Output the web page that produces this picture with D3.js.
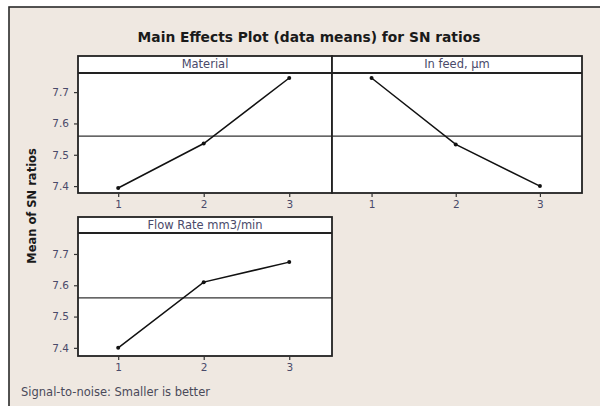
<!DOCTYPE html>
<html><head><meta charset="utf-8">
<script src="https://cdn.jsdelivr.net/npm/d3@7"></script>
<style>body{margin:0;background:#fff}svg{display:block}</style>
</head><body>
<script>
const levels = [1, 2, 3];
const factors = ["Material", "In feed, µm", "Flow Rate mm3/min"];
const materialMeans = [7.394, 7.536, 7.745];
const infeedMeans = [7.745, 7.533, 7.400];
const flowMeans = [7.400, 7.610, 7.674];
const yTicks = [7.4, 7.5, 7.6, 7.7];
const title = "Main Effects Plot (data means) for SN ratios";
const yLabel = "Mean of SN ratios";
const footer = "Signal-to-noise: Smaller is better";

const W = 600, H = 406;
const svg = d3.select("body").append("svg").attr("width", W).attr("height", H);
const font = "'DejaVu Sans', 'Liberation Sans', sans-serif";

// outer frame
svg.append("rect").attr("x", 9).attr("y", 7).attr("width", W + 20).attr("height", H + 20)
  .attr("fill", "#efe8e1").attr("stroke", "#2a2a2a").attr("stroke-width", 1.6);

svg.append("text").attr("x", 309).attr("y", 42).attr("text-anchor", "middle")
  .attr("font-family", font).attr("font-weight", "bold").attr("font-size", 13.8)
  .attr("fill", "#1a1a1a").text(title);

const allVals = [].concat(materialMeans, infeedMeans, flowMeans);
const grandMean = d3.mean(allVals);

const panels = [
  {name: factors[0], vals: materialMeans, x0: 78, x1: 332, top: 56, strip: 73, bottom: 193, leftAxis: true, dom: [7.378, 7.761]},
  {name: factors[1], vals: infeedMeans, x0: 332, x1: 582, top: 56, strip: 73, bottom: 193, leftAxis: false, dom: [7.378, 7.761]},
  {name: factors[2], vals: flowMeans, x0: 78, x1: 332, top: 217, strip: 233, bottom: 356, leftAxis: true, dom: [7.374, 7.767]}
];

panels.forEach(p => {
  const g = svg.append("g");
  const x = d3.scaleLinear().domain([0.53, 3.5]).range([p.x0, p.x1]);
  const y = d3.scaleLinear().domain(p.dom).range([p.bottom, p.strip]);
  g.append("rect").attr("x", p.x0).attr("y", p.top).attr("width", p.x1 - p.x0).attr("height", p.bottom - p.top)
    .attr("fill", "#fff");
  g.append("line").attr("x1", p.x0).attr("x2", p.x1).attr("y1", y(grandMean)).attr("y2", y(grandMean))
    .attr("stroke", "#333").attr("stroke-width", 1.3);
  const line = d3.line().x((d, i) => x(levels[i])).y(d => y(d));
  g.append("path").datum(p.vals).attr("d", line).attr("fill", "none")
    .attr("stroke", "#111").attr("stroke-width", 1.5);
  g.selectAll("circle").data(p.vals).join("circle")
    .attr("cx", (d, i) => x(levels[i])).attr("cy", d => y(d)).attr("r", 2).attr("fill", "#111");
  g.append("line").attr("x1", p.x0).attr("x2", p.x1).attr("y1", p.strip).attr("y2", p.strip)
    .attr("stroke", "#222").attr("stroke-width", 1.8);
  g.append("text").attr("x", (p.x0 + p.x1) / 2).attr("y", p.top + 12).attr("text-anchor", "middle")
    .attr("font-family", font).attr("font-size", 11.5).attr("fill", "#4a4a6a").text(p.name);
  g.append("rect").attr("x", p.x0).attr("y", p.top).attr("width", p.x1 - p.x0).attr("height", p.bottom - p.top)
    .attr("fill", "none").attr("stroke", "#222").attr("stroke-width", 1.8);
  const xa = g.append("g").attr("transform", `translate(0,${p.bottom})`)
    .call(d3.axisBottom(x).tickValues(levels).tickFormat(d3.format("d")).tickSize(4).tickPadding(4));
  xa.select(".domain").remove();
  xa.selectAll("line").attr("stroke", "#333").attr("stroke-width", 1.2);
  xa.selectAll("text").attr("font-family", font).attr("font-size", 10.5).attr("fill", "#4a4a6a");
  if (p.leftAxis) {
    const ya = g.append("g").attr("transform", `translate(${p.x0},0)`)
      .call(d3.axisLeft(y).tickValues(yTicks).tickFormat(d3.format(".1f")).tickSize(4).tickPadding(5));
    ya.select(".domain").remove();
    ya.selectAll("line").attr("stroke", "#333").attr("stroke-width", 1.2);
    ya.selectAll("text").attr("font-family", font).attr("font-size", 10.5).attr("fill", "#4a4a6a");
  }
});

svg.append("text").attr("transform", "translate(36,206) rotate(-90)").attr("text-anchor", "middle")
  .attr("font-family", font).attr("font-weight", "bold").attr("font-size", 11.5).attr("fill", "#1a1a1a").text(yLabel);

svg.append("text").attr("x", 21).attr("y", 396)
  .attr("font-family", font).attr("font-size", 11.5).attr("fill", "#4a4a5a").text(footer);
</script>
</body></html>
